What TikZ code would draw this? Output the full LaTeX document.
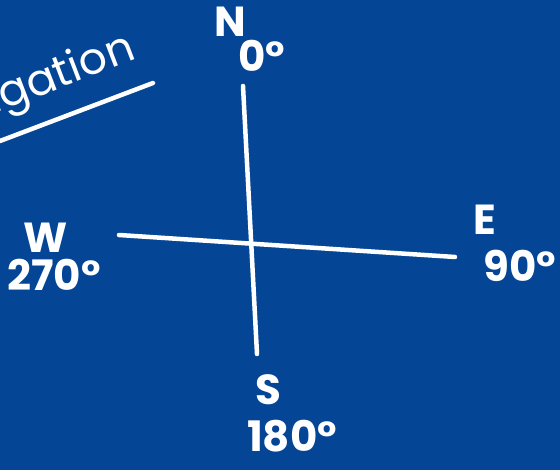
\documentclass[tikz,border=0pt]{standalone}
\usepackage{fontspec}
\setmainfont{Poppins}
\definecolor{bg}{RGB}{4,69,150}
\begin{document}
\begin{tikzpicture}[x=1pt,y=-1pt,
  chalk/.style={white,line width=4.5pt,line cap=round},
  lbl/.style={text=white,inner sep=0pt,font=\fontsize{42}{42}\selectfont\bfseries}]
\fill[bg] (0,0) rectangle (560,470);
\useasboundingbox (0,0) rectangle (560,470);
% axes
\coordinate (ntop) at (243,86);
\coordinate (sbot) at (257,354);
\coordinate (wend) at (119,235);
\coordinate (eend) at (455,257);
\draw[chalk] (ntop) -- (sbot);
\draw[chalk] (wend) -- (eend);
% heading fragment
\node[text=white,inner sep=0pt,rotate=21,anchor=center] (title) at (62,76) {\fontsize{44}{44}\selectfont igation};
\coordinate (ul1) at (0,141);
\coordinate (ul2) at (153,83);
\draw[chalk] (ul1) -- (ul2);
% labels
\node[lbl] (N) at (230,22) {N};
\node[lbl] (n0) at (262,56) {0°};
\node[lbl] (W) at (46,238) {W};
\node[lbl] (w0) at (54,275) {270°};
\node[lbl] (E) at (485,220) {E};
\node[lbl] (e0) at (520,266) {90°};
\node[lbl] (S) at (268,390) {S};
\node[lbl] (s0) at (292,436) {180°};
\end{tikzpicture}
\end{document}
